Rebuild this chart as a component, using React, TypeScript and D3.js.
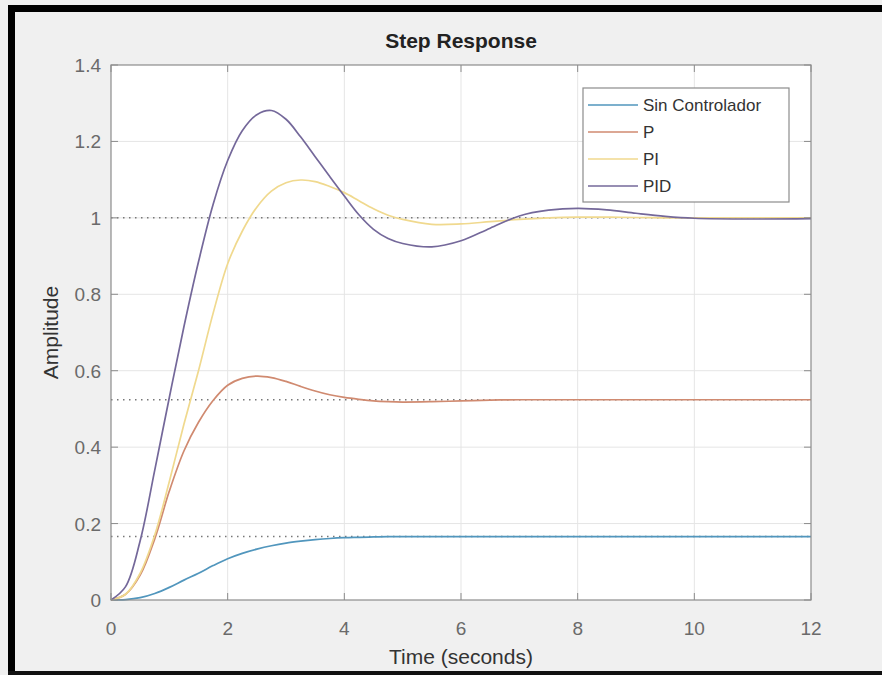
import React from "react";
import { useEffect, useRef } from "react";
import * as d3 from "d3";

// time samples (seconds) shared by every response
const time = [0, 0.25, 0.5, 0.75, 1, 1.25, 1.5, 1.75, 2, 2.25, 2.5, 2.75, 3, 3.25, 3.5, 3.75, 4, 4.25, 4.5, 4.75, 5, 5.5, 6, 6.5, 7, 7.5, 8, 8.5, 9, 9.5, 10, 11, 12];

const sinControlador = [0, 0.001, 0.006, 0.017, 0.033, 0.052, 0.07, 0.09, 0.108, 0.122, 0.133, 0.142, 0.149, 0.154, 0.158, 0.161, 0.163, 0.164, 0.165, 0.166, 0.166, 0.166, 0.166, 0.166, 0.166, 0.166, 0.166, 0.166, 0.166, 0.166, 0.166, 0.166, 0.166];
const pCtrl = [0, 0.015, 0.065, 0.16, 0.285, 0.39, 0.465, 0.522, 0.562, 0.58, 0.586, 0.582, 0.572, 0.559, 0.547, 0.537, 0.53, 0.525, 0.521, 0.519, 0.518, 0.519, 0.521, 0.523, 0.524, 0.524, 0.524, 0.524, 0.524, 0.524, 0.524, 0.524, 0.524];
const piCtrl = [0, 0.015, 0.07, 0.17, 0.31, 0.46, 0.6, 0.75, 0.88, 0.965, 1.028, 1.07, 1.092, 1.099, 1.095, 1.082, 1.066, 1.045, 1.024, 1.007, 0.996, 0.983, 0.984, 0.99, 0.996, 1.0, 1.002, 1.002, 1.001, 1.0, 1.0, 1.0, 1.0];
const pidCtrl = [0, 0.035, 0.155, 0.34, 0.53, 0.715, 0.885, 1.035, 1.15, 1.228, 1.27, 1.281, 1.258, 1.212, 1.16, 1.108, 1.057, 1.008, 0.97, 0.946, 0.933, 0.924, 0.94, 0.973, 1.005, 1.02, 1.025, 1.021, 1.012, 1.004, 0.999, 0.997, 0.998];

const seriesNames = ["Sin Controlador", "P", "PI", "PID"];
const seriesValues = [sinControlador, pCtrl, piCtrl, pidCtrl];
const colors = ["#5196bd", "#d08a70", "#f0d98e", "#74689a"];

// steady-state levels drawn as dotted lines
const finalValues = [1.0, 0.524, 0.166];

const xTicks = [0, 2, 4, 6, 8, 10, 12];
const yTicks = [0, 0.2, 0.4, 0.6, 0.8, 1, 1.2, 1.4];

const App = () => {
  const ref = useRef<SVGSVGElement>(null);

  useEffect(() => {
    const svg = d3.select(ref.current);
    svg.selectAll("*").remove();

    const W = 882;
    const H = 675;
    const left = 111, right = 811, top = 65, bottom = 600;

    svg.append("rect").attr("width", W).attr("height", H).attr("fill", "#f0f0f0");

    // black frame of the screenshot
    svg.append("rect").attr("x", 8).attr("y", 5).attr("width", 7).attr("height", H - 5).attr("fill", "#000");
    svg.append("rect").attr("x", 8).attr("y", 5).attr("width", W - 8).attr("height", 7).attr("fill", "#000");
    svg.append("rect").attr("x", 8).attr("y", 671).attr("width", W - 8).attr("height", 4).attr("fill", "#111");

    const x = d3.scaleLinear().domain([0, 12]).range([left, right]);
    const y = d3.scaleLinear().domain([0, 1.4]).range([bottom, top]);

    svg.append("rect")
      .attr("x", left).attr("y", top)
      .attr("width", right - left).attr("height", bottom - top)
      .attr("fill", "#fff");

    // grid
    const grid = svg.append("g");
    grid.selectAll(".gx").data(xTicks.slice(1, -1)).enter().append("line")
      .attr("x1", (d) => x(d)).attr("x2", (d) => x(d))
      .attr("y1", top).attr("y2", bottom)
      .attr("stroke", "#e5e5e5").attr("stroke-width", 1);
    grid.selectAll(".gy").data(yTicks.slice(1, -1)).enter().append("line")
      .attr("x1", left).attr("x2", right)
      .attr("y1", (d) => y(d)).attr("y2", (d) => y(d))
      .attr("stroke", "#e5e5e5").attr("stroke-width", 1);

    // steady-state dotted lines
    svg.selectAll(".ss").data(finalValues).enter().append("line")
      .attr("x1", left).attr("x2", right)
      .attr("y1", (d) => y(d)).attr("y2", (d) => y(d))
      .attr("stroke", "#777").attr("stroke-width", 1.5)
      .attr("stroke-dasharray", "1.5,4.5");

    const line = d3.line<number>()
      .x((_, i) => x(time[i]))
      .y((d) => y(d))
      .curve(d3.curveCatmullRom.alpha(0.5));

    seriesValues.forEach((vals, k) => {
      svg.append("path")
        .datum(vals)
        .attr("fill", "none")
        .attr("stroke", colors[k])
        .attr("stroke-width", 1.7)
        .attr("d", line);
    });

    // axes box + inward ticks
    const axisColor = "#8c8c8c";
    svg.append("rect")
      .attr("x", left).attr("y", top)
      .attr("width", right - left).attr("height", bottom - top)
      .attr("fill", "none").attr("stroke", axisColor).attr("stroke-width", 1.2);

    const tickLen = 7;
    xTicks.forEach((t) => {
      svg.append("line").attr("x1", x(t)).attr("x2", x(t)).attr("y1", bottom).attr("y2", bottom - tickLen).attr("stroke", axisColor);
      svg.append("line").attr("x1", x(t)).attr("x2", x(t)).attr("y1", top).attr("y2", top + tickLen).attr("stroke", axisColor);
    });
    yTicks.forEach((v) => {
      svg.append("line").attr("x1", left).attr("x2", left + tickLen).attr("y1", y(v)).attr("y2", y(v)).attr("stroke", axisColor);
      svg.append("line").attr("x1", right).attr("x2", right - tickLen).attr("y1", y(v)).attr("y2", y(v)).attr("stroke", axisColor);
    });

    const font = "Liberation Sans, Arial, sans-serif";
    const tickColor = "#6a6a6a";

    svg.selectAll(".xl").data(xTicks).enter().append("text")
      .attr("x", (d) => x(d)).attr("y", bottom + 35)
      .attr("text-anchor", "middle")
      .attr("font-family", font).attr("font-size", 19).attr("fill", tickColor)
      .text((d) => String(d));

    svg.selectAll(".yl").data(yTicks).enter().append("text")
      .attr("x", left - 10).attr("y", (d) => y(d) + 7)
      .attr("text-anchor", "end")
      .attr("font-family", font).attr("font-size", 19).attr("fill", tickColor)
      .text((d) => String(d));

    svg.append("text")
      .attr("x", (left + right) / 2).attr("y", 48)
      .attr("text-anchor", "middle")
      .attr("font-family", font).attr("font-size", 21).attr("font-weight", "bold").attr("fill", "#222")
      .text("Step Response");

    svg.append("text")
      .attr("x", (left + right) / 2).attr("y", 664)
      .attr("text-anchor", "middle")
      .attr("font-family", font).attr("font-size", 21).attr("fill", "#333")
      .text("Time (seconds)");

    svg.append("text")
      .attr("transform", `translate(58,${(top + bottom) / 2}) rotate(-90)`)
      .attr("text-anchor", "middle")
      .attr("font-family", font).attr("font-size", 21).attr("fill", "#333")
      .text("Amplitude");

    // legend
    const lg = svg.append("g").attr("transform", "translate(583,88)");
    lg.append("rect").attr("width", 206).attr("height", 114)
      .attr("fill", "#fff").attr("stroke", "#8c8c8c").attr("stroke-width", 1.2);
    seriesNames.forEach((name, k) => {
      const ry = 17 + k * 27;
      lg.append("line").attr("x1", 5).attr("x2", 55).attr("y1", ry).attr("y2", ry)
        .attr("stroke", colors[k]).attr("stroke-width", 1.7);
      lg.append("text").attr("x", 60).attr("y", ry + 6)
        .attr("font-family", font).attr("font-size", 17).attr("fill", "#333")
        .text(name);
    });
  }, []);

  return (
    <div style={{ position: "absolute", left: 0, top: 0 }}>
      <svg ref={ref} width={882} height={675} style={{ display: "block" }} />
    </div>
  );
};

export default App;
